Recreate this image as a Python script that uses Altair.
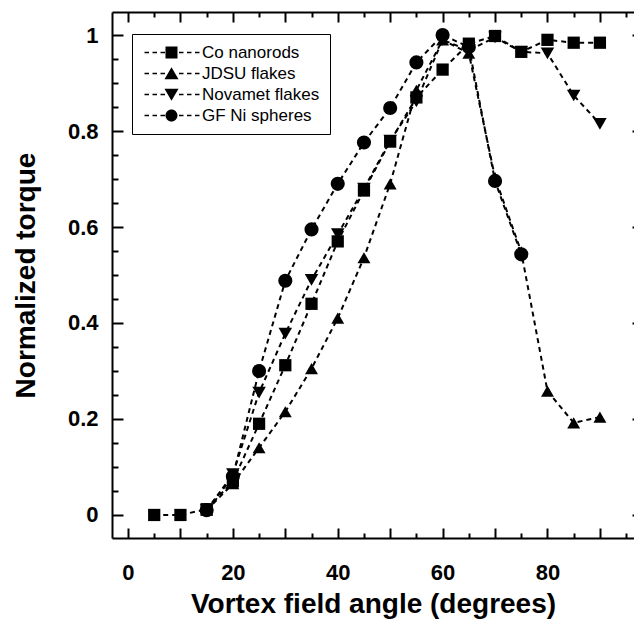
import altair as alt
import pandas as pd

# ---- data ----
series = ["Co nanorods", "JDSU flakes", "Novamet flakes", "GF Ni spheres"]

co_angle = [5, 10, 15, 20, 25, 30, 35, 40, 45, 50, 55, 60, 65, 70, 75, 80, 85, 90]
co_torque = [0.0, 0.0, 0.012, 0.07, 0.19, 0.312, 0.44, 0.57, 0.676, 0.778, 0.87, 0.928, 0.982, 0.998, 0.965, 0.99, 0.984, 0.984]

jdsu_angle = [15, 20, 25, 30, 35, 40, 45, 50, 55, 60, 65, 70, 75, 80, 85, 90]
jdsu_torque = [0.01, 0.065, 0.14, 0.215, 0.305, 0.41, 0.536, 0.69, 0.885, 0.99, 0.962, 0.703, 0.548, 0.258, 0.192, 0.204]

nova_angle = [15, 20, 25, 30, 35, 40, 45, 50, 55, 60, 65, 70, 75, 80, 85, 90]
nova_torque = [0.01, 0.085, 0.255, 0.378, 0.49, 0.585, 0.68, 0.78, 0.862, 0.99, 0.968, 0.995, 0.965, 0.962, 0.874, 0.815]

gf_angle = [15, 20, 25, 30, 35, 40, 45, 50, 55, 60, 65, 70, 75]
gf_torque = [0.01, 0.08, 0.3, 0.488, 0.595, 0.69, 0.776, 0.848, 0.943, 1.0, 0.975, 0.696, 0.543]

x_label_values = [0, 20, 40, 60, 80]
y_label_values = [0, 0.2, 0.4, 0.6, 0.8, 1]

# draw order: later series on top
order = [("JDSU flakes", jdsu_angle, jdsu_torque),
         ("Novamet flakes", nova_angle, nova_torque),
         ("GF Ni spheres", gf_angle, gf_torque),
         ("Co nanorods", co_angle, co_torque)]
rows = []
for name, xs, ys in order:
    for a, t in zip(xs, ys):
        rows.append({"series": name, "angle": a, "torque": t})
df = pd.DataFrame(rows)

# ---- layout ----
W, H = 522, 526
FONT = "Liberation Sans"
xscale = alt.Scale(domain=[-3.05, 96.5], nice=False, zero=False)
yscale = alt.Scale(domain=[-0.048, 1.048], nice=False, zero=False)

x_minor = list(range(0, 100, 5))
y_minor = [round(i * 0.05, 2) for i in range(21)]

x_tick_size = {"condition": {"test": "datum.value % 10 == 0", "value": 10}, "value": 5}
y_tick_size = {"condition": {"test": "abs(datum.value * 5 - round(datum.value * 5)) < 0.000001", "value": 11}, "value": 6}

# legend symbols: dashed segment with the marker in the middle (custom paths)
S = 6.0  # px per path unit for symbol size 144
c = 21.0 / S
dash_px = [(-6, -1.5), (2, 6.5), (10, 14.5), (28.5, 33), (36.5, 41), (44.5, 49)]
ht = 0.14


def dashes():
    p = ""
    for a, b in dash_px:
        a, b = a / S, b / S
        p += f"M{a:.3f},{-ht}L{b:.3f},{-ht}L{b:.3f},{ht}L{a:.3f},{ht}Z"
    return p


sq = f"M{c-1:.3f},-1L{c+1:.3f},-1L{c+1:.3f},1L{c-1:.3f},1Z"
tu = f"M{c:.3f},-1.05L{c+1.17:.3f},0.95L{c-1.17:.3f},0.95Z"
td = f"M{c:.3f},1.05L{c+1.17:.3f},-0.95L{c-1.17:.3f},-0.95Z"
ci = f"M{c-1:.3f},0A1,1,0,1,1,{c+1:.3f},0A1,1,0,1,1,{c-1:.3f},0Z"
legend_paths = [dashes() + sq, dashes() + tu, dashes() + td, dashes() + ci]

base = alt.Chart(df)

lines = base.mark_line(color="black", strokeDash=[5, 4], strokeWidth=2).encode(
    x=alt.X("angle:Q", scale=xscale, axis=alt.Axis(
        orient="bottom", values=x_label_values, ticks=False, tickSize=0,
        domain=True, domainColor="black", domainWidth=2,
        labelFont=FONT, labelFontSize=22, labelFontWeight="bold", labelColor="black",
        labelPadding=24, grid=False,
        title="Vortex field angle (degrees)", titleFont=FONT, titleFontSize=28,
        titleFontWeight="bold", titleColor="black", titlePadding=7)),
    y=alt.Y("torque:Q", scale=yscale, axis=alt.Axis(
        orient="left", values=y_label_values, ticks=False, tickSize=0,
        domain=True, domainColor="black", domainWidth=2,
        labelExpr="datum.value == 0 ? '0' : datum.value == 1 ? '1' : format(datum.value, '.1f')",
        labelFont=FONT, labelFontSize=22, labelFontWeight="bold", labelColor="black",
        labelPadding=14, grid=False,
        title="Normalized torque", titleFont=FONT, titleFontSize=28,
        titleFontWeight="bold", titleColor="black", titlePadding=27)),
    detail="series:N",
)

points = base.mark_point(filled=True, color="black", opacity=1).encode(
    x=alt.X("angle:Q", scale=xscale, axis=alt.Axis(
        orient="top", offset=-H, values=x_minor, labels=False, domain=False,
        tickSize=x_tick_size, tickColor="black", tickWidth=2, grid=False, title=None)),
    y=alt.Y("torque:Q", scale=yscale, axis=alt.Axis(
        orient="right", offset=-W, values=y_minor, labels=False, domain=False,
        tickSize=y_tick_size, tickColor="black", tickWidth=2, grid=False, title=None)),
    shape=alt.Shape("series:N", scale=alt.Scale(
        domain=series, range=["square", "triangle-up", "triangle-down", "circle"]), legend=None),
    size=alt.Size("series:N", scale=alt.Scale(domain=series, range=[150, 200, 200, 150]), legend=None),
)

legend_layer = base.transform_filter("false").mark_point(
    filled=True, color="black", opacity=1, size=144, strokeWidth=0
).encode(
    x=alt.X("angle:Q", scale=xscale, axis=alt.Axis(
        orient="bottom", offset=-H, values=x_minor, labels=False,
        domain=True, domainColor="black", domainWidth=2,
        tickSize=x_tick_size, tickColor="black", tickWidth=2, grid=False, title=None)),
    y=alt.Y("torque:Q", scale=yscale, axis=alt.Axis(
        orient="left", offset=-W, values=y_label_values, labels=False, domain=False,
        tickSize=2, tickColor="black", tickWidth=2, grid=False, title=None)),
    shape=alt.Shape("series:N", scale=alt.Scale(domain=series, range=legend_paths),
                    legend=alt.Legend(
                        orient="none", legendX=20, legendY=22, title=None,
                        strokeColor="black", fillColor="white", padding=10,
                        labelFont=FONT, labelFontSize=17, labelColor="black",
                        labelOffset=43, symbolSize=144, symbolStrokeWidth=0,
                        symbolFillColor="black", rowPadding=3)),
)

chart = alt.layer(lines, points, legend_layer).resolve_scale(
    shape="independent", size="independent"
).resolve_axis(
    x="independent", y="independent"
).properties(
    width=W, height=H,
    autosize=alt.AutoSizeParams(type="none"),
    padding={"left": 112, "top": 12, "right": 0, "bottom": 90},
    background="white",
).configure_view(stroke=None)

chart.save("out.html", embed_options={"renderer": "svg", "actions": False})
